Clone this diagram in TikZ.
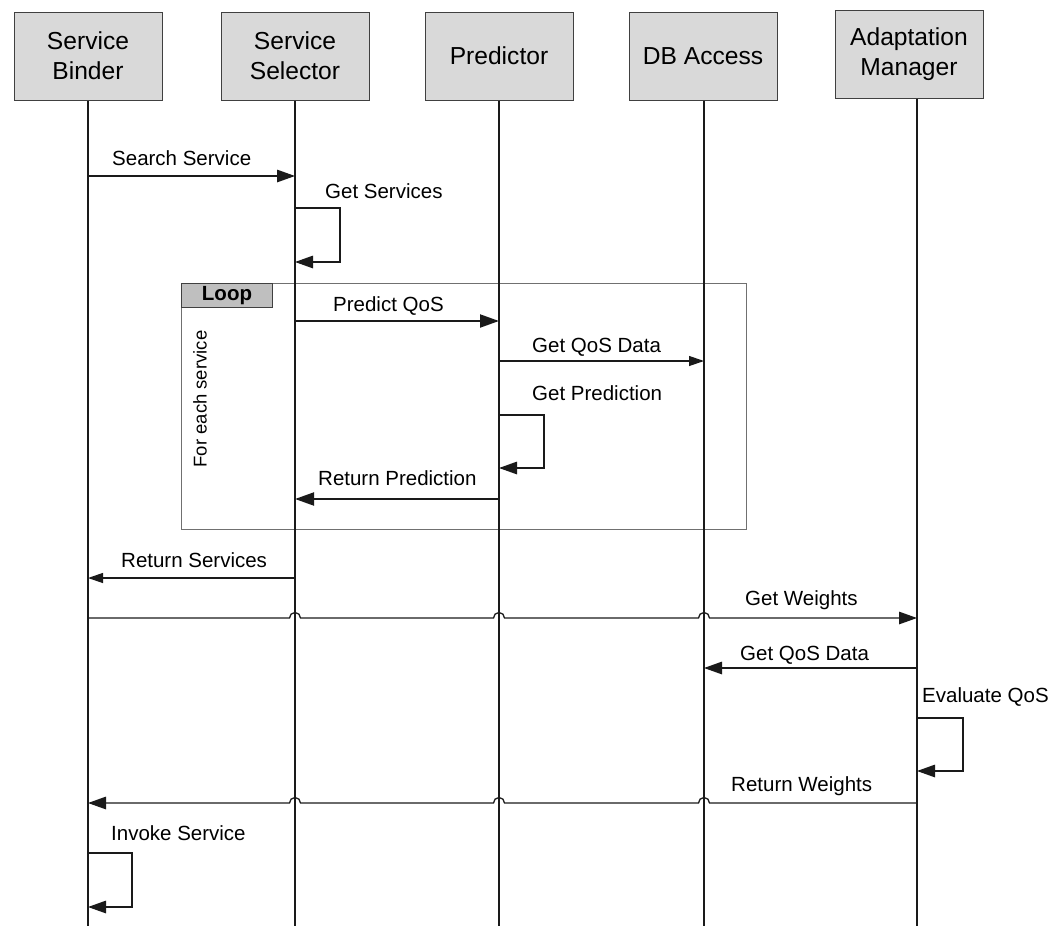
\documentclass[tikz,border=0pt]{standalone}
\usepackage{fontspec}
\setmainfont{Liberation Sans}
\usetikzlibrary{arrows.meta,calc}

\definecolor{boxfill}{HTML}{D9D9D9}
\definecolor{boxline}{HTML}{404040}
\definecolor{tabfill}{HTML}{BFBFBF}
\definecolor{frameline}{HTML}{707070}
\definecolor{ink}{HTML}{1A1A1A}

\begin{document}
\begin{tikzpicture}[x=1pt,y=-1pt,
  actor/.style={draw=boxline, fill=boxfill, line width=1pt,
    minimum width=148pt, minimum height=88pt, inner sep=0pt,
    align=center, font=\fontsize{24.6}{30}\selectfont},
  life/.style={draw=ink, line width=1.1pt},
  msg/.style={draw=ink, line width=1.3pt, -{Triangle[length=18pt,width=12.5pt]}},
  msgthick/.style={draw=ink, line width=2pt, -{Triangle[length=19pt,width=13pt]}},
  msgsmall/.style={draw=ink, line width=1.2pt, -{Triangle[length=15pt,width=10pt]}},
  lbl/.style={font=\fontsize{20.5}{24}\selectfont, anchor=base west, inner sep=0pt},
  jump/.style={start angle=180, end angle=0, radius=5.5pt},
  jumpback/.style={start angle=0, end angle=180, radius=5.5pt},
]
\useasboundingbox (0,0) rectangle (1060,926);

% lifeline positions
\coordinate (l1) at (88,0);
\coordinate (l2) at (295,0);
\coordinate (l3) at (499,0);
\coordinate (l4) at (704,0);
\coordinate (l5) at (917,0);

% participants
\node[actor] (sb) at (88,56)  {Service\\Binder};
\node[actor] (ss) at (295,56) {Service\\Selector};
\node[actor] (pr) at (499,56) {Predictor};
\node[actor] (db) at (703,56) {DB Access};
\node[actor] (am) at (909,54) {Adaptation\\Manager};

% loop fragment
\draw[frameline, line width=1pt] (181,283) rectangle (746,529);
\node[draw=boxline, fill=tabfill, line width=1pt, anchor=north west,
      minimum width=91pt, minimum height=24pt, inner sep=0pt,
      font=\bfseries\fontsize{20.5}{24}\selectfont] (looptab) at (181,283) {Loop};
\node[rotate=90, inner sep=0pt, font=\fontsize{18.5}{22}\selectfont] (each) at (200,399) {For each service};

% lifelines
\draw[life] (sb.south -| l1) -- (l1 |- 0,926);
\draw[life] (ss.south -| l2) -- (l2 |- 0,926);
\draw[life] (pr.south -| l3) -- (l3 |- 0,926);
\draw[life] (db.south -| l4) -- (l4 |- 0,926);
\draw[life] (am.south -| l5) -- (l5 |- 0,926);

% messages
\draw[msg] (l1 |- 0,176) -- (l2 |- 0,176);
\node[lbl] at (112,165) {Search Service};

\draw[msg] (l2 |- 0,208) -- ++(45,0) -- ++(0,54) -- (l2 |- 0,262);
\node[lbl] at (325,198) {Get Services};

\draw[msgthick] (l2 |- 0,321) -- (l3 |- 0,321);
\node[lbl] at (333,311) {Predict QoS};

\draw[msgsmall] (l3 |- 0,361) -- (l4 |- 0,361);
\node[lbl] at (532,352) {Get QoS Data};

\draw[msg] (l3 |- 0,415) -- ++(45,0) -- ++(0,53) -- (l3 |- 0,468);
\node[lbl] at (532,400) {Get Prediction};

\draw[msgthick] (l3 |- 0,499) -- (l2 |- 0,499);
\node[lbl] at (318,485) {Return Prediction};

\draw[msgsmall] (l2 |- 0,578) -- (l1 |- 0,578);
\node[lbl] at (121,567) {Return Services};

\draw[msg] (l1 |- 0,618)
  -- ($(l2 |- 0,618)+(-5.5,0)$) arc[jump]
  -- ($(l3 |- 0,618)+(-5.5,0)$) arc[jump]
  -- ($(l4 |- 0,618)+(-5.5,0)$) arc[jump]
  -- (l5 |- 0,618);
\node[lbl] at (745,605) {Get Weights};

\draw[msg] (l5 |- 0,668) -- (l4 |- 0,668);
\node[lbl] at (740,660) {Get QoS Data};

\draw[msg] (l5 |- 0,718) -- ++(46,0) -- ++(0,53) -- (l5 |- 0,771);
\node[lbl] at (922,702) {Evaluate QoS};

\draw[msg] (l5 |- 0,803)
  -- ($(l4 |- 0,803)+(5.5,0)$) arc[jumpback]
  -- ($(l3 |- 0,803)+(5.5,0)$) arc[jumpback]
  -- ($(l2 |- 0,803)+(5.5,0)$) arc[jumpback]
  -- (l1 |- 0,803);
\node[lbl] at (731,791) {Return Weights};

\draw[msg] (l1 |- 0,853) -- ++(44,0) -- ++(0,54) -- (l1 |- 0,907);
\node[lbl] at (111,840) {Invoke Service};

\end{tikzpicture}
\end{document}
